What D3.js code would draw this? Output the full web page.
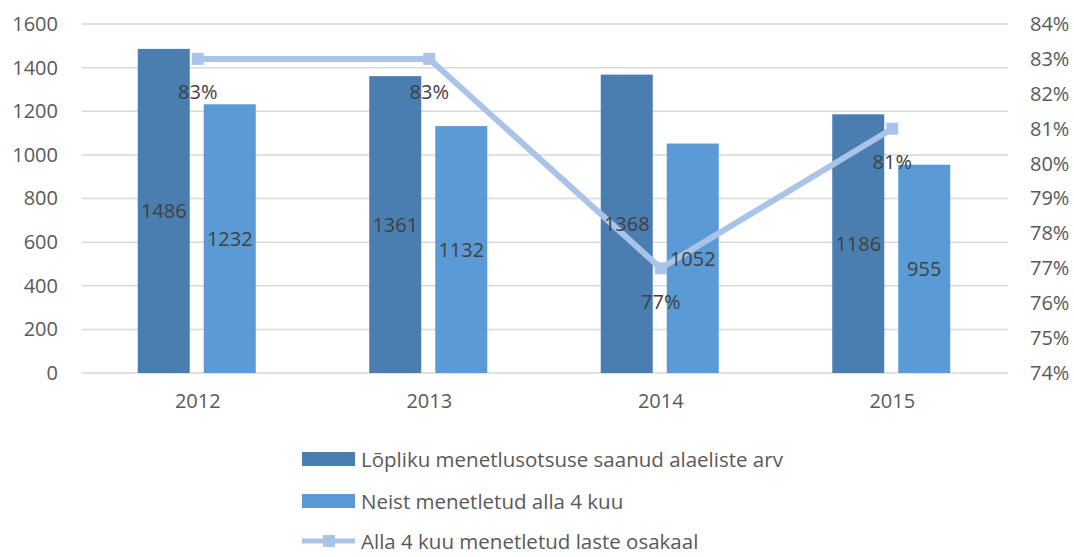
<!DOCTYPE html>
<html><head><meta charset="utf-8">
<script src="https://cdn.jsdelivr.net/npm/d3@7"></script>
<style>body{margin:0;background:#fff}svg{display:block}text{font-family:"Open Sans",sans-serif}</style>
</head><body><svg id="c" width="1074" height="557"></svg>
<script>
const years = ["2012","2013","2014","2015"];
const totalCases = [1486,1361,1368,1186];
const under4 = [1232,1132,1052,955];
const share = [83,83,77,81];
const leftTicks = [0,200,400,600,800,1000,1200,1400,1600];
const rightTicks = [74,75,76,77,78,79,80,81,82,83,84];
const seriesNames = ["Lõpliku menetlusotsuse saanud alaeliste arv","Neist menetletud alla 4 kuu","Alla 4 kuu menetletud laste osakaal"];
const colors = ["#4a7eb0","#5b9bd5","#a9c4e8"];

const svg = d3.select("#c");
const L=82,R=1008,T=24,B=373;
const FS = "20px";
const x = d3.scaleBand().domain(years).range([L,R]);
const y = d3.scaleLinear().domain([0,1600]).range([B,T]);
const y2 = d3.scaleLinear().domain([74,84]).range([B,T]);

svg.append("g").selectAll("line").data(leftTicks).join("line")
  .attr("x1",L).attr("x2",R).attr("y1",d=>y(d)).attr("y2",d=>y(d))
  .attr("stroke","#d9d9d9").attr("stroke-width",1.5);

const ya = d3.axisLeft(y).tickValues(leftTicks).tickSize(0).tickPadding(24).tickFormat(d3.format("d"));
const gy = svg.append("g").attr("transform",`translate(${L},0)`).call(ya);
gy.select(".domain").remove();
gy.selectAll("text").attr("fill","#595959").style("font-size",FS);

const ya2 = d3.axisRight(y2).tickValues(rightTicks).tickSize(0).tickPadding(22).tickFormat(d=>d+"%");
const gy2 = svg.append("g").attr("transform",`translate(${R},0)`).call(ya2);
gy2.select(".domain").remove();
gy2.selectAll("text").attr("fill","#595959").style("font-size",FS);

const xa = d3.axisBottom(x).tickSize(0).tickPadding(21);
const gx = svg.append("g").attr("transform",`translate(0,${B})`).call(xa);
gx.select(".domain").remove();
gx.selectAll("text").attr("fill","#595959").style("font-size",FS);

const bw = 52;
const c = d=>x(d)+x.bandwidth()/2;
const off = [-60, 6];
[totalCases, under4].forEach((arr,i)=>{
  svg.append("g").selectAll("rect").data(years).join("rect")
    .attr("x",(d)=>c(d)+off[i]).attr("width",bw)
    .attr("y",(d,j)=>y(arr[j])).attr("height",(d,j)=>B-y(arr[j]))
    .attr("fill",colors[i]);
});
const line = d3.line().x((d,i)=>c(years[i])).y(d=>y2(d));
svg.append("path").datum(share).attr("d",line).attr("fill","none")
  .attr("stroke",colors[2]).attr("stroke-width",6);
svg.append("g").selectAll("rect").data(share).join("rect")
  .attr("x",(d,i)=>c(years[i])-6).attr("y",d=>y2(d)-6).attr("width",12).attr("height",12)
  .attr("fill",colors[2]);

[totalCases, under4].forEach((arr,i)=>{
  svg.append("g").selectAll("text").data(arr).join("text")
    .attr("x",(d,j)=>c(years[j])+off[i]+bw/2).attr("y",d=>(y(d)+B)/2)
    .attr("text-anchor","middle").attr("dominant-baseline","central")
    .attr("fill","#404040").style("font-size",FS).text(d=>d);
});
svg.append("g").selectAll("text").data(share).join("text")
  .attr("x",(d,i)=>c(years[i])).attr("y",d=>y2(d)+33)
  .attr("text-anchor","middle").attr("dominant-baseline","central")
  .attr("fill","#404040").style("font-size",FS).text(d=>d+"%");

const ly = [459,501,541];
seriesNames.forEach((n,i)=>{
  const g = svg.append("g");
  if(i<2){
    g.append("rect").attr("x",302).attr("y",ly[i]-7).attr("width",53).attr("height",14).attr("fill",colors[i]);
  } else {
    g.append("line").attr("x1",302).attr("x2",355).attr("y1",ly[i]).attr("y2",ly[i]).attr("stroke",colors[2]).attr("stroke-width",5);
    g.append("rect").attr("x",323).attr("y",ly[i]-6).attr("width",12).attr("height",12).attr("fill",colors[2]);
  }
  g.append("text").attr("x",361).attr("y",ly[i]).attr("dominant-baseline","central")
    .attr("fill","#595959").style("font-size","20.5px").text(n);
});
</script></body></html>
